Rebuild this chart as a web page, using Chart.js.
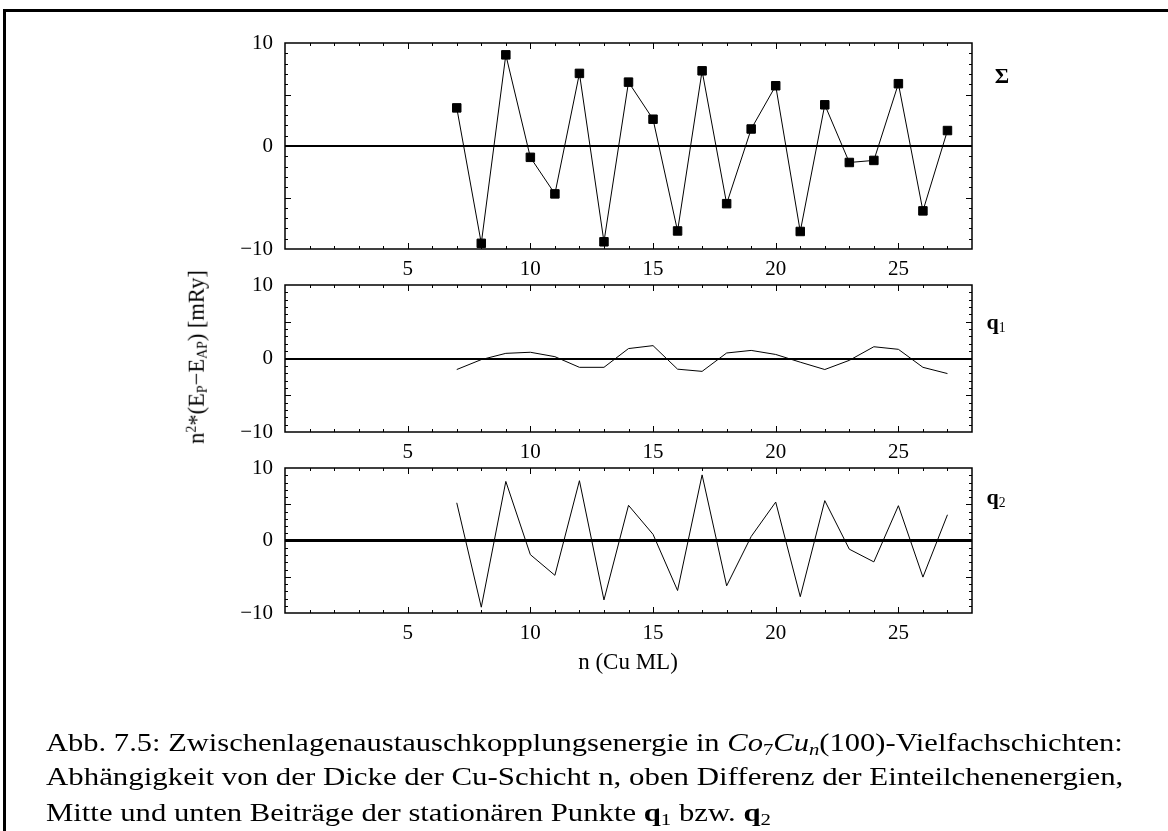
<!DOCTYPE html>
<html>
<head>
<meta charset="utf-8">
<script src="https://cdn.jsdelivr.net/npm/chart.js@4.4.0/dist/chart.umd.min.js"></script>
<style>
  html, body { margin: 0; padding: 0; background: #fff; }
  #page {
    position: relative; width: 1168px; height: 831px; overflow: hidden; background: #fff;
    font-family: "Liberation Serif", "Times New Roman", serif; color: #000;
  }
  canvas.panel { position: absolute; left: 0; top: 0; }
  .rule { position: absolute; background: #000; }
  .lbl { position: absolute; white-space: nowrap; line-height: 1; }
  .lbl sub, .lbl sup { font-size: 0.62em; line-height: 0; }
  .lbl sup { vertical-align: 0.55em; }
  .lbl sub { vertical-align: -0.25em; }
  .cap {
    position: absolute; left: 46px; white-space: nowrap; font-size: 26px; line-height: 30px;
    transform-origin: 0 50%; display: inline-block;
  }
  .cap sub { font-size: 0.68em; line-height: 0; vertical-align: -0.25em; font-style: normal; }
  .cap sub i { font-style: italic; }
</style>
</head>
<body>
<div id="page">
  <div class="rule" style="left:3px; top:9px; width:1165px; height:3px;"></div>
  <div class="rule" style="left:3px; top:9px; width:3px; height:822px;"></div>

  <canvas class="panel" id="panelSigma" width="1168" height="831"></canvas>
  <canvas class="panel" id="panelQ1" width="1168" height="831"></canvas>
  <canvas class="panel" id="panelQ2" width="1168" height="831"></canvas>

  <div class="lbl" id="ytitle" style="left:197px; top:357px; font-size:22.5px; transform:translate(-50%,-50%) rotate(-90deg);">n<sup>2</sup>*(E<sub>P</sub>&minus;E<sub>AP</sub>) [mRy]</div>
  <div class="lbl" id="xtitle" style="left:628px; top:661px; font-size:23px; transform:translate(-50%,-50%);">n (Cu ML)</div>

  <div class="lbl" style="left:1002px; top:76px; font-size:22px; font-weight:bold; transform:translate(-50%,-50%);">&Sigma;</div>
  <div class="lbl" style="left:996px; top:322px; font-size:22px; transform:translate(-50%,-50%);"><b>q</b><sub>1</sub></div>
  <div class="lbl" style="left:996px; top:497px; font-size:22px; transform:translate(-50%,-50%);"><b>q</b><sub>2</sub></div>

  <div class="cap" id="cap1" style="top:728px;">Abb. 7.5: Zwischenlagenaustauschkopplungsenergie in <i>Co</i><sub>7</sub><i>Cu</i><sub><i>n</i></sub>(100)-Vielfachschichten:</div>
  <div class="cap" id="cap2" style="top:762px;">Abhängigkeit von der Dicke der Cu-Schicht n, oben Differenz der Einteilchenenergien,</div>
  <div class="cap" id="cap3" style="top:798px;">Mitte und unten Beiträge der stationären Punkte <b>q</b><sub>1</sub> bzw. <b>q</b><sub>2</sub></div>
</div>

<script>
// Cu spacer thickness n (monolayers)
const layers = [7, 8, 9, 10, 11, 12, 13, 14, 15, 16, 17, 18, 19, 20, 21, 22, 23, 24, 25, 26, 27];

// n^2 * (E_P - E_AP) in mRy: total, and contributions of the stationary points q1 and q2
const sigmaValues = [3.7, -9.45, 8.85, -1.1, -4.65, 7.05, -9.3, 6.2, 2.6, -8.25, 7.3, -5.6, 1.65, 5.85, -8.3, 4.0, -1.6, -1.4, 6.05, -6.3, 1.5];
const q1Values = [-1.5, -0.15, 0.7, 0.85, 0.25, -1.2, -1.2, 1.35, 1.75, -1.45, -1.75, 0.75, 1.1, 0.55, -0.5, -1.5, -0.25, 1.6, 1.25, -1.2, -2.05];
const q2Values = [5.2, -9.2, 8.15, -1.95, -4.8, 8.25, -8.2, 4.85, 0.85, -6.9, 9.05, -6.25, 0.55, 5.3, -7.75, 5.5, -1.2, -2.95, 4.8, -5.05, 3.55];

// tick labels
const xTickLabels = [5, 10, 15, 20, 25];
const yTickLabels = [-10, 0, 10];

const PAGE_W = 1168, PAGE_H = 831;
const X_AXIS_H = 40;
const tickFont = { family: "'Liberation Serif', 'Times New Roman', serif", size: 21 };

// Closed frame with inward minor/major ticks on all four sides
const frameTicks = {
  id: 'frameTicks',
  afterDraw(chart) {
    const { ctx, chartArea: a, scales: { x, y } } = chart;
    ctx.save();
    ctx.strokeStyle = '#000';
    ctx.lineWidth = 1;
    ctx.beginPath();
    for (let n = Math.ceil(x.min) + 1; n < x.max; n++) {
      const px = Math.round(x.getPixelForValue(n)) + 0.5;
      const len = n % 5 === 0 ? 6 : 3;
      ctx.moveTo(px, a.bottom); ctx.lineTo(px, a.bottom - len);
      ctx.moveTo(px, a.top); ctx.lineTo(px, a.top + len);
    }
    for (let v = y.min + 1; v < y.max; v++) {
      const py = Math.round(y.getPixelForValue(v)) + 0.5;
      const len = v % 5 === 0 ? 6 : 3;
      ctx.moveTo(a.left, py); ctx.lineTo(a.left + len, py);
      ctx.moveTo(a.right, py); ctx.lineTo(a.right - len, py);
    }
    ctx.stroke();
    ctx.lineWidth = 1.5;
    ctx.strokeRect(a.left, a.top, a.right - a.left, a.bottom - a.top);
    ctx.restore();
  }
};

function makePanel(id, area, values, style) {
  return new Chart(document.getElementById(id), {
    type: 'line',
    data: {
      datasets: [{
        data: layers.map((n, i) => ({ x: n, y: values[i] })),
        borderColor: '#000',
        borderWidth: 1,
        tension: 0,
        fill: false,
        pointStyle: 'rect',
        pointRadius: style.markers ? 6 : 0,
        pointBackgroundColor: '#000',
        pointBorderColor: '#000',
        pointBorderWidth: 1,
        clip: false
      }]
    },
    options: {
      responsive: false,
      animation: false,
      events: [],
      layout: {
        padding: { left: 0, right: PAGE_W - area.right, top: area.top, bottom: PAGE_H - area.bottom - X_AXIS_H }
      },
      plugins: { legend: { display: false }, tooltip: { enabled: false } },
      scales: {
        x: {
          type: 'linear', min: 0, max: 28,
          afterFit: s => { s.height = X_AXIS_H; },
          grid: { display: false, drawTicks: false },
          border: { display: false },
          ticks: {
            stepSize: 5, includeBounds: false, autoSkip: false, maxRotation: 0,
            padding: 8, color: '#000', font: tickFont,
            callback: v => xTickLabels.includes(v) ? String(v) : ''
          }
        },
        y: {
          type: 'linear', min: -10, max: 10,
          afterFit: s => { s.width = area.left; },
          grid: {
            drawTicks: false,
            color: c => c.tick && c.tick.value === 0 ? '#000' : 'rgba(0,0,0,0)',
            lineWidth: style.zeroWidth
          },
          border: { display: false },
          ticks: {
            stepSize: 10, padding: 12, color: '#000', font: tickFont,
            callback: v => yTickLabels.includes(v) ? (v < 0 ? '\u2212' + Math.abs(v) : String(v)) : ''
          }
        }
      }
    },
    plugins: [frameTicks]
  });
}

makePanel('panelSigma', { left: 285, right: 972, top: 43, bottom: 249 }, sigmaValues, { markers: true, zeroWidth: 2 });
makePanel('panelQ1', { left: 285, right: 972, top: 285, bottom: 432 }, q1Values, { markers: false, zeroWidth: 2 });
makePanel('panelQ2', { left: 285, right: 972, top: 468, bottom: 613 }, q2Values, { markers: false, zeroWidth: 3 });

// Justify the caption lines to the text block width
function fitCaption() {
  const target = 1077;
  const c1 = document.getElementById('cap1'), c2 = document.getElementById('cap2'), c3 = document.getElementById('cap3');
  const s1 = target / c1.offsetWidth, s2 = target / c2.offsetWidth;
  c1.style.transform = 'scaleX(' + s1 + ')';
  c2.style.transform = 'scaleX(' + s2 + ')';
  c3.style.transform = 'scaleX(' + ((s1 + s2) / 2) + ')';
}
fitCaption();
if (document.fonts && document.fonts.ready) document.fonts.ready.then(fitCaption);
</script>
</body>
</html>
